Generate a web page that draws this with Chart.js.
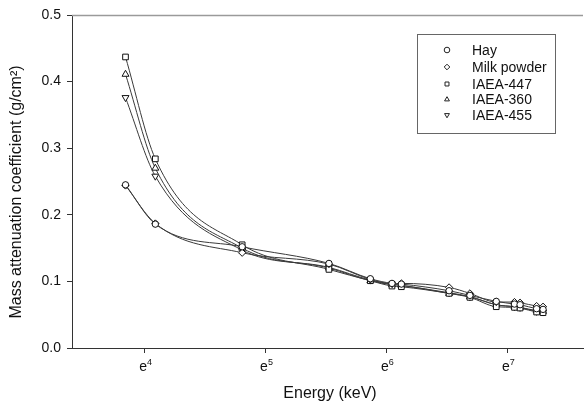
<!DOCTYPE html>
<html>
<head>
<meta charset="utf-8">
<script src="https://cdn.jsdelivr.net/npm/chart.js@4/dist/chart.umd.min.js"></script>
<style>
  html, body { margin: 0; padding: 0; background: #fff; }
  #chart-container { width: 588px; height: 405px; position: relative; }
</style>
</head>
<body>
<div id="chart-container"><canvas id="chart"></canvas></div>
<script>
// energies in keV, plotted on a natural log axis
var energies = [46.5, 59.5, 122, 250, 352, 421, 455, 675, 802, 997, 1159, 1214, 1392, 1468];

var hay      = [0.245, 0.186, 0.152, 0.127, 0.104, 0.097, 0.096, 0.086, 0.079, 0.070, 0.066, 0.065, 0.059, 0.058];
var milk     = [0.244, 0.187, 0.143, 0.126, 0.103, 0.096, 0.097, 0.091, 0.082, 0.069, 0.069, 0.068, 0.063, 0.062];
var iaea447  = [0.437, 0.284, 0.155, 0.118, 0.101, 0.093, 0.092, 0.082, 0.076, 0.062, 0.061, 0.060, 0.054, 0.053];
var iaea360  = [0.411, 0.270, 0.150, 0.120, 0.101, 0.095, 0.094, 0.082, 0.077, 0.065, 0.062, 0.061, 0.056, 0.055];
var iaea455  = [0.376, 0.258, 0.147, 0.121, 0.102, 0.096, 0.094, 0.083, 0.077, 0.065, 0.062, 0.061, 0.055, 0.054];

var seriesNames = ['Hay', 'Milk powder', 'IAEA-447', 'IAEA-360', 'IAEA-455'];
var xTickValues = [4, 5, 6, 7];
var xTickExponents = ['4', '5', '6', '7'];
var yTickLabels = ['0.0', '0.1', '0.2', '0.3', '0.4', '0.5'];

var FONT = '"Liberation Sans", Arial, sans-serif';

var markers = [
    { style: 'circle', rotation: 0, radius: 3.2 },
    { style: 'rectRot', rotation: 0, radius: 3.6 },
    { style: 'rect', rotation: 0, radius: 4 },
    { style: 'triangle', rotation: 0, radius: 4 },
    { style: 'triangle', rotation: 180, radius: 4 }
];

function toPoints(values) {
    return energies.map(function (e, i) {
        return { x: Math.log(e), y: values[i] };
    });
}

var allValues = [hay, milk, iaea447, iaea360, iaea455];
var datasets = allValues.map(function (values, i) {
    return {
        label: seriesNames[i],
        data: toPoints(values),
        borderColor: '#3a3a3a',
        borderWidth: 1,
        cubicInterpolationMode: 'monotone',
        pointStyle: markers[i].style,
        pointRotation: markers[i].rotation,
        pointRadius: markers[i].radius,
        pointBorderWidth: 1,
        pointBorderColor: '#111',
        pointBackgroundColor: '#fff'
    };
});

// axis titles, e^n tick labels, top frame line and boxed legend
var decorations = {
    id: 'decorations',
    afterDraw: function (chart) {
        var ctx = chart.ctx;
        var area = chart.chartArea;
        var xScale = chart.scales.x;
        ctx.save();

        ctx.strokeStyle = '#9a9a9a';
        ctx.lineWidth = 1.5;
        ctx.beginPath();
        ctx.moveTo(area.left, area.top + 0.5);
        ctx.lineTo(area.right, area.top + 0.5);
        ctx.stroke();

        ctx.fillStyle = '#111';
        ctx.textBaseline = 'alphabetic';
        for (var t = 0; t < xTickValues.length; t++) {
            var px = xScale.getPixelForValue(xTickValues[t]);
            ctx.font = '14px ' + FONT;
            ctx.textAlign = 'right';
            ctx.fillText('e', px + 2, 371);
            ctx.font = '9px ' + FONT;
            ctx.textAlign = 'left';
            ctx.fillText(xTickExponents[t], px + 2, 365);
        }

        ctx.font = '16px ' + FONT;
        ctx.textAlign = 'center';
        ctx.textBaseline = 'middle';
        ctx.fillText('Energy (keV)', 330, 394);

        ctx.save();
        ctx.translate(17, 192);
        ctx.rotate(-Math.PI / 2);
        ctx.fillText('Mass attenuation coefficient (g/cm\u00B2)', 0, 0);
        ctx.restore();

        // legend box
        ctx.strokeStyle = '#666';
        ctx.lineWidth = 1;
        ctx.strokeRect(417.5, 34.5, 138, 99);
        ctx.font = '14px ' + FONT;
        ctx.textAlign = 'left';
        var rowY = [50, 67, 84, 99.5, 115];
        for (var i = 0; i < seriesNames.length; i++) {
            ctx.strokeStyle = '#222';
            ctx.fillStyle = '#fff';
            Chart.helpers.drawPoint(ctx, {
                pointStyle: markers[i].style,
                rotation: markers[i].rotation,
                radius: 2.8,
                borderWidth: 1
            }, 447, rowY[i]);
            ctx.fillStyle = '#111';
            ctx.fillText(seriesNames[i], 472, rowY[i] + 1);
        }
        ctx.restore();
    }
};

new Chart(document.getElementById('chart'), {
    type: 'line',
    data: { datasets: datasets },
    plugins: [decorations],
    options: {
        responsive: true,
        maintainAspectRatio: false,
        animation: false,
        layout: { padding: { top: 15, left: 0, right: 0, bottom: 0 } },
        plugins: {
            legend: { display: false },
            tooltip: { enabled: false }
        },
        scales: {
            x: {
                type: 'linear',
                min: 3.397,
                max: 7.622,
                afterFit: function (scale) { scale.height = 57; },
                afterBuildTicks: function (scale) {
                    scale.ticks = xTickValues.map(function (v) { return { value: v }; });
                },
                grid: { drawOnChartArea: false, tickLength: 5, color: '#333' },
                border: { display: true, color: '#333', width: 1 },
                ticks: {
                    // labels are drawn by the decorations plugin (e with superscript)
                    callback: function () { return ''; }
                }
            },
            y: {
                min: 0,
                max: 0.5,
                afterFit: function (scale) { scale.width = 72; },
                afterBuildTicks: function (scale) {
                    scale.ticks = yTickLabels.map(function (t) { return { value: parseFloat(t) }; });
                },
                grid: { drawOnChartArea: false, tickLength: 5, color: '#333' },
                border: { display: true, color: '#333', width: 1 },
                ticks: {
                    padding: 6,
                    color: '#111',
                    font: { family: FONT, size: 14 },
                    callback: function (value) {
                        return value.toFixed(1);
                    }
                }
            }
        }
    }
});
</script>
</body>
</html>
